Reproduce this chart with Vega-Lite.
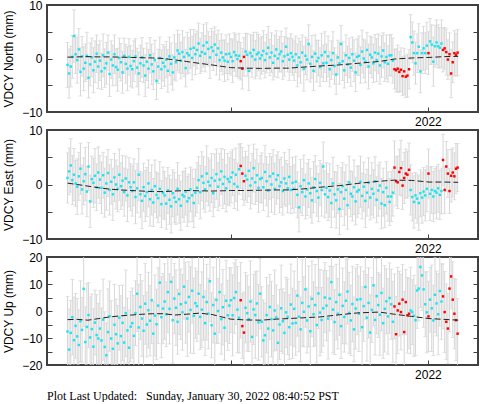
{
"$schema":"https://vega.github.io/schema/vega-lite/v6.json",
"padding":{"left":1,"top":-2,"right":1,"bottom":0},
"background":"white",
"config":{
 "view":{"stroke":"#404040","strokeWidth":2},
 "axis":{"domain":false,"grid":false,"tickColor":"#404040","tickSize":-5,"tickWidth":1,"labelFont":"Liberation Sans","labelFontSize":12,"labelColor":"#000","titleFont":"Liberation Sans","titleFontSize":12,"titleFontWeight":"normal","titleColor":"#000"},
 "title":{"font":"Liberation Serif","fontSize":12,"fontWeight":"normal","color":"#000"}
},
"title":{"text":"Plot Last Updated:\u00a0\u00a0\u00a0Sunday, January 30, 2022 08:40:52 PST","orient":"bottom","anchor":"start","frame":"group","dx":0,"offset":10},
"datasets":{
"obs":[
{"d":31,"n":-1.2,"e":1.2,"u":-7.6,"sn":4.2,"se":4.6,"su":13},
{"d":32.5,"n":-2.8,"e":2.4,"u":-14.3,"sn":4.6,"se":4.3,"su":15},
{"d":34,"n":-1.5,"e":3.5,"u":-8.1,"sn":3.8,"se":4.9,"su":12},
{"d":35.5,"n":0.3,"e":0.8,"u":-2.3,"sn":4.0,"se":4.5,"su":14},
{"d":37,"n":4.2,"e":1.8,"u":-10.8,"sn":4.9,"se":4.8,"su":16},
{"d":38.5,"n":0.8,"e":0.2,"u":-5.5,"sn":3.6,"se":4.2,"su":12},
{"d":40,"n":-0.3,"e":-0.4,"u":-9.4,"sn":4.3,"se":5.1,"su":14},
{"d":41.5,"n":1.7,"e":1.5,"u":-12.6,"sn":3.9,"se":4.4,"su":13},
{"d":43,"n":-2.5,"e":2.9,"u":-3.8,"sn":4.5,"se":4.7,"su":15},
{"d":44.5,"n":0.4,"e":-0.9,"u":-7.0,"sn":3.7,"se":4.5,"su":12},
{"d":46,"n":-1.9,"e":0.6,"u":8.2,"sn":4.1,"se":4.3,"su":14},
{"d":47.5,"n":-0.8,"e":1.9,"u":-11.5,"sn":3.5,"se":4.9,"su":13},
{"d":49,"n":0.5,"e":-1.3,"u":-5.9,"sn":4.4,"se":4.6,"su":16},
{"d":50.5,"n":-3.6,"e":3.3,"u":-1.5,"sn":3.8,"se":4.4,"su":12},
{"d":52,"n":-1.1,"e":-3.1,"u":-9.8,"sn":4.0,"se":4.8,"su":15},
{"d":53.5,"n":0.2,"e":1.0,"u":-6.7,"sn":3.6,"se":4.2,"su":13},
{"d":55,"n":-2.2,"e":0.3,"u":-13.2,"sn":4.2,"se":4.5,"su":14},
{"d":56.5,"n":-0.6,"e":1.6,"u":-4.3,"sn":3.9,"se":5.0,"su":12},
{"d":58,"n":0.9,"e":-0.5,"u":-8.9,"sn":3.5,"se":4.3,"su":15},
{"d":59.5,"n":-1.5,"e":2.2,"u":-10.2,"sn":4.1,"se":4.7,"su":13},
{"d":61,"n":-0.4,"e":0.9,"u":-6.5,"sn":3.7,"se":4.4,"su":14},
{"d":62.5,"n":-2.4,"e":-0.6,"u":-10.9,"sn":3.4,"se":4.7,"su":12},
{"d":64,"n":0.6,"e":1.7,"u":-3.2,"sn":4.0,"se":4.2,"su":15},
{"d":65.5,"n":-1.8,"e":-1.5,"u":-13.3,"sn":3.6,"se":4.5,"su":13},
{"d":67,"n":-0.9,"e":0.2,"u":-16.4,"sn":3.9,"se":4.9,"su":12},
{"d":68.5,"n":1.1,"e":2.1,"u":-7.8,"sn":3.3,"se":4.3,"su":16},
{"d":70,"n":-2.9,"e":-1.0,"u":-1.9,"sn":4.2,"se":4.6,"su":13},
{"d":71.5,"n":-0.2,"e":0.5,"u":-10.2,"sn":3.5,"se":4.1,"su":14},
{"d":73,"n":-1.3,"e":-1.8,"u":-14.0,"sn":3.8,"se":4.8,"su":12},
{"d":74.5,"n":0.8,"e":1.3,"u":-5.1,"sn":3.6,"se":4.4,"su":15},
{"d":76,"n":-1.6,"e":0.0,"u":-8.6,"sn":3.4,"se":4.5,"su":13},
{"d":77.5,"n":-2.1,"e":-0.8,"u":-12.0,"sn":4.0,"se":4.2,"su":14},
{"d":79,"n":0.1,"e":1.8,"u":-2.5,"sn":3.7,"se":4.7,"su":12},
{"d":80.5,"n":-0.7,"e":-0.3,"u":-9.3,"sn":3.5,"se":4.3,"su":15},
{"d":82,"n":-2.6,"e":0.7,"u":-4.4,"sn":3.9,"se":4.6,"su":14},
{"d":83.5,"n":0.5,"e":-1.4,"u":-11.7,"sn":3.3,"se":4.4,"su":13},
{"d":85,"n":-1.0,"e":1.1,"u":-0.8,"sn":3.6,"se":4.1,"su":16},
{"d":86.5,"n":-1.9,"e":-2.0,"u":-7.2,"sn":4.1,"se":4.8,"su":12},
{"d":88,"n":0.3,"e":0.4,"u":-13.6,"sn":3.4,"se":4.5,"su":14},
{"d":89.5,"n":-1.4,"e":-0.5,"u":-5.8,"sn":3.8,"se":4.3,"su":13},
{"d":91,"n":-2.0,"e":-1.2,"u":-4.5,"sn":3.5,"se":4.6,"su":13},
{"d":92.5,"n":-0.5,"e":0.4,"u":-9.2,"sn":3.8,"se":4.3,"su":15},
{"d":94,"n":0.4,"e":-2.3,"u":-0.8,"sn":3.3,"se":4.9,"su":12},
{"d":95.5,"n":-1.7,"e":-0.7,"u":6.4,"sn":3.6,"se":4.5,"su":14},
{"d":97,"n":-2.8,"e":1.8,"u":-6.1,"sn":4.0,"se":4.8,"su":16},
{"d":98.5,"n":-0.9,"e":-1.8,"u":1.5,"sn":3.4,"se":4.2,"su":12},
{"d":100,"n":0.2,"e":-3.0,"u":-2.8,"sn":3.7,"se":5.1,"su":14},
{"d":101.5,"n":-1.3,"e":-0.5,"u":-7.3,"sn":3.2,"se":4.4,"su":13},
{"d":103,"n":-3.2,"e":-2.1,"u":2.7,"sn":3.9,"se":4.7,"su":15},
{"d":104.5,"n":-0.6,"e":-1.4,"u":-5.0,"sn":3.5,"se":4.5,"su":12},
{"d":106,"n":-1.9,"e":0.2,"u":0.3,"sn":3.6,"se":4.3,"su":14},
{"d":107.5,"n":0.6,"e":-2.7,"u":-3.6,"sn":3.3,"se":4.9,"su":13},
{"d":109,"n":-1.1,"e":-1.0,"u":4.0,"sn":3.8,"se":4.6,"su":16},
{"d":110.5,"n":-2.4,"e":-3.3,"u":-8.4,"sn":3.4,"se":4.4,"su":12},
{"d":112,"n":-0.3,"e":-0.3,"u":-1.7,"sn":3.7,"se":4.8,"su":15},
{"d":113.5,"n":-4.2,"e":-1.9,"u":-4.9,"sn":3.5,"se":4.2,"su":13},
{"d":115,"n":-1.5,"e":-2.5,"u":2.0,"sn":3.2,"se":4.5,"su":14},
{"d":116.5,"n":0.1,"e":-0.8,"u":10.5,"sn":3.9,"se":5.0,"su":12},
{"d":118,"n":-2.0,"e":-3.6,"u":-2.3,"sn":3.6,"se":4.3,"su":15},
{"d":119.5,"n":-0.8,"e":-1.5,"u":0.9,"sn":3.4,"se":4.7,"su":13},
{"d":121,"n":-1.5,"e":-2.0,"u":3.5,"sn":3.7,"se":4.4,"su":14},
{"d":122.5,"n":-0.2,"e":-3.5,"u":-1.2,"sn":3.4,"se":4.7,"su":12},
{"d":124,"n":-2.3,"e":-1.1,"u":7.0,"sn":4.0,"se":4.2,"su":15},
{"d":125.5,"n":0.4,"e":-2.8,"u":0.8,"sn":3.6,"se":4.5,"su":13},
{"d":127,"n":-1.0,"e":-4.0,"u":10.8,"sn":3.9,"se":4.9,"su":12},
{"d":128.5,"n":-2.6,"e":-1.6,"u":-3.4,"sn":3.3,"se":4.3,"su":16},
{"d":130,"n":0.2,"e":-2.4,"u":4.6,"sn":4.2,"se":4.6,"su":13},
{"d":131.5,"n":-0.7,"e":-3.2,"u":1.2,"sn":3.5,"se":4.1,"su":14},
{"d":133,"n":1.5,"e":-0.8,"u":-4.0,"sn":3.8,"se":4.8,"su":12},
{"d":134.5,"n":0.9,"e":-2.7,"u":6.3,"sn":3.6,"se":4.4,"su":15},
{"d":136,"n":-0.4,"e":-3.9,"u":2.5,"sn":3.4,"se":4.5,"su":13},
{"d":137.5,"n":1.2,"e":-1.9,"u":-0.5,"sn":4.0,"se":4.2,"su":14},
{"d":139,"n":0.3,"e":-2.2,"u":9.0,"sn":3.7,"se":4.7,"su":12},
{"d":140.5,"n":-1.8,"e":-1.3,"u":3.1,"sn":3.5,"se":4.3,"su":15},
{"d":142,"n":1.0,"e":-3.1,"u":-2.8,"sn":3.9,"se":4.6,"su":14},
{"d":143.5,"n":0.6,"e":-2.5,"u":5.2,"sn":3.3,"se":4.4,"su":13},
{"d":145,"n":1.8,"e":-0.9,"u":0.4,"sn":3.6,"se":4.1,"su":16},
{"d":146.5,"n":0.1,"e":-2.0,"u":7.5,"sn":4.1,"se":4.8,"su":12},
{"d":148,"n":2.0,"e":-3.4,"u":-1.8,"sn":3.4,"se":4.5,"su":14},
{"d":149.5,"n":0.8,"e":-1.5,"u":2.9,"sn":3.8,"se":4.3,"su":13},
{"d":151,"n":1.6,"e":-0.6,"u":1.8,"sn":3.5,"se":4.6,"su":13},
{"d":152.5,"n":2.8,"e":0.8,"u":6.4,"sn":3.8,"se":4.3,"su":15},
{"d":154,"n":0.5,"e":-1.4,"u":-2.2,"sn":3.3,"se":4.9,"su":12},
{"d":155.5,"n":1.2,"e":1.5,"u":0.5,"sn":3.6,"se":4.5,"su":14},
{"d":157,"n":2.4,"e":0.3,"u":5.2,"sn":4.0,"se":4.8,"su":16},
{"d":158.5,"n":0.9,"e":-0.9,"u":-4.5,"sn":3.4,"se":4.2,"su":12},
{"d":160,"n":3.0,"e":2.0,"u":3.3,"sn":3.7,"se":5.1,"su":14},
{"d":161.5,"n":1.8,"e":0.5,"u":-1.0,"sn":3.2,"se":4.4,"su":13},
{"d":163,"n":0.2,"e":-0.2,"u":11.0,"sn":3.9,"se":4.7,"su":15},
{"d":164.5,"n":2.1,"e":1.2,"u":-5.3,"sn":3.5,"se":4.5,"su":12},
{"d":166,"n":1.4,"e":-1.6,"u":2.2,"sn":3.6,"se":4.3,"su":14},
{"d":167.5,"n":2.6,"e":0.7,"u":-8.4,"sn":3.3,"se":4.9,"su":13},
{"d":169,"n":0.7,"e":1.9,"u":4.1,"sn":3.8,"se":4.6,"su":16},
{"d":170.5,"n":1.9,"e":-0.4,"u":0.0,"sn":3.4,"se":4.4,"su":12},
{"d":172,"n":-0.3,"e":0.9,"u":7.0,"sn":3.7,"se":4.8,"su":15},
{"d":173.5,"n":1.1,"e":2.4,"u":-3.0,"sn":3.5,"se":4.2,"su":13},
{"d":175,"n":0.2,"e":0.1,"u":1.4,"sn":3.2,"se":4.5,"su":14},
{"d":176.5,"n":-0.4,"e":1.4,"u":-6.2,"sn":3.9,"se":5.0,"su":12},
{"d":178,"n":0.8,"e":-0.7,"u":3.8,"sn":3.6,"se":4.3,"su":15},
{"d":179.5,"n":-0.6,"e":1.0,"u":-1.6,"sn":3.4,"se":4.7,"su":13},
{"d":181,"n":0.9,"e":0.5,"u":2.0,"sn":3.7,"se":4.4,"su":14},
{"d":182.5,"n":0.3,"e":1.3,"u":4.0,"sn":3.4,"se":4.7,"su":12},
{"d":184,"n":-0.5,"e":2.2,"u":-1.6,"sn":4.0,"se":4.2,"su":15},
{"d":185.5,"n":1.2,"e":0.1,"u":4.8,"sn":3.6,"se":4.5,"su":13},
{"d":187,"n":0.6,"e":1.8,"u":7.0,"sn":3.9,"se":4.9,"su":12},
{"d":188.5,"n":-0.1,"e":-0.4,"u":0.5,"sn":3.3,"se":4.3,"su":16},
{"d":190,"n":0.5,"e":2.8,"u":-2.5,"sn":4.2,"se":4.6,"su":13},
{"d":191.5,"n":-0.5,"e":3.4,"u":4.0,"sn":3.5,"se":4.1,"su":14,"r":1},
{"d":193,"n":-1.9,"e":2.0,"u":-5.6,"sn":3.8,"se":4.8,"su":12,"r":1},
{"d":194.5,"n":0.3,"e":0.6,"u":-8.0,"sn":3.6,"se":4.4,"su":15,"r":1},
{"d":196,"n":1.3,"e":1.6,"u":1.2,"sn":3.4,"se":4.5,"su":13},
{"d":197.5,"n":0.7,"e":0.9,"u":-0.8,"sn":4.0,"se":4.2,"su":14},
{"d":199,"n":-2.3,"e":2.5,"u":-3.0,"sn":3.7,"se":4.7,"su":12},
{"d":200.5,"n":1.0,"e":-0.2,"u":3.5,"sn":3.5,"se":4.3,"su":15},
{"d":202,"n":0.4,"e":1.1,"u":-9.6,"sn":3.9,"se":4.6,"su":14},
{"d":203.5,"n":1.6,"e":3.0,"u":0.6,"sn":3.3,"se":4.4,"su":13},
{"d":205,"n":-0.2,"e":0.4,"u":-1.5,"sn":3.6,"se":4.1,"su":16},
{"d":206.5,"n":0.8,"e":1.7,"u":2.8,"sn":4.1,"se":4.8,"su":12},
{"d":208,"n":1.1,"e":-0.6,"u":-4.2,"sn":3.4,"se":4.5,"su":14},
{"d":209.5,"n":0.0,"e":1.0,"u":6.4,"sn":3.8,"se":4.3,"su":13},
{"d":211,"n":0.6,"e":1.2,"u":-4.0,"sn":3.5,"se":4.6,"su":13},
{"d":212.5,"n":1.4,"e":-0.5,"u":-10.9,"sn":3.8,"se":4.3,"su":15},
{"d":214,"n":-0.3,"e":2.3,"u":-9.0,"sn":3.3,"se":4.9,"su":12},
{"d":215.5,"n":0.9,"e":0.6,"u":-1.5,"sn":3.6,"se":4.5,"su":14},
{"d":217,"n":2.0,"e":-1.1,"u":-6.5,"sn":4.0,"se":4.8,"su":16},
{"d":218.5,"n":0.2,"e":1.5,"u":1.5,"sn":3.4,"se":4.2,"su":12},
{"d":220,"n":1.1,"e":0.0,"u":-3.0,"sn":3.7,"se":5.1,"su":14},
{"d":221.5,"n":-0.8,"e":2.0,"u":-7.2,"sn":3.2,"se":4.4,"su":13},
{"d":223,"n":0.5,"e":-0.8,"u":0.2,"sn":3.9,"se":4.7,"su":15},
{"d":224.5,"n":1.7,"e":0.9,"u":-2.4,"sn":3.5,"se":4.5,"su":12},
{"d":226,"n":0.0,"e":1.7,"u":-11.8,"sn":3.6,"se":4.3,"su":14},
{"d":227.5,"n":0.8,"e":-0.3,"u":-5.0,"sn":3.3,"se":4.9,"su":13},
{"d":229,"n":1.3,"e":0.4,"u":1.0,"sn":3.8,"se":4.6,"su":16},
{"d":230.5,"n":-0.5,"e":-1.2,"u":-3.8,"sn":3.4,"se":4.4,"su":12},
{"d":232,"n":0.4,"e":1.1,"u":-8.1,"sn":3.7,"se":4.8,"su":15},
{"d":233.5,"n":2.2,"e":0.2,"u":-0.5,"sn":3.5,"se":4.2,"su":13},
{"d":235,"n":0.7,"e":-0.7,"u":-2.2,"sn":3.2,"se":4.5,"su":14},
{"d":236.5,"n":-0.2,"e":1.4,"u":-6.0,"sn":3.9,"se":5.0,"su":12},
{"d":238,"n":1.0,"e":-1.0,"u":2.4,"sn":3.6,"se":4.3,"su":15},
{"d":239.5,"n":0.3,"e":0.3,"u":-4.6,"sn":3.4,"se":4.7,"su":13},
{"d":241,"n":-0.4,"e":-0.8,"u":0.8,"sn":3.7,"se":4.4,"su":14},
{"d":242.5,"n":0.8,"e":0.5,"u":-4.4,"sn":3.4,"se":4.7,"su":12},
{"d":244,"n":-1.3,"e":-1.9,"u":5.7,"sn":4.0,"se":4.2,"su":15},
{"d":245.5,"n":0.2,"e":-4.2,"u":-2.1,"sn":3.6,"se":4.5,"su":13},
{"d":247,"n":-0.7,"e":-0.3,"u":-6.8,"sn":3.9,"se":4.9,"su":12},
{"d":248.5,"n":1.1,"e":-1.4,"u":3.0,"sn":3.3,"se":4.3,"su":16},
{"d":250,"n":-1.9,"e":0.8,"u":-0.3,"sn":4.2,"se":4.6,"su":13},
{"d":251.5,"n":0.5,"e":-2.2,"u":8.0,"sn":3.5,"se":4.1,"su":14},
{"d":253,"n":-0.2,"e":-0.9,"u":-3.5,"sn":3.8,"se":4.8,"su":12},
{"d":254.5,"n":2.7,"e":0.2,"u":1.7,"sn":3.6,"se":4.4,"su":15},
{"d":256,"n":-1.0,"e":-1.6,"u":-7.5,"sn":3.4,"se":4.5,"su":13},
{"d":257.5,"n":0.3,"e":-2.9,"u":4.5,"sn":4.0,"se":4.2,"su":14},
{"d":259,"n":-2.3,"e":-0.5,"u":-1.2,"sn":3.7,"se":4.7,"su":12},
{"d":260.5,"n":0.9,"e":1.0,"u":2.2,"sn":3.5,"se":4.3,"su":15},
{"d":262,"n":-0.5,"e":-1.2,"u":-5.2,"sn":3.9,"se":4.6,"su":14},
{"d":263.5,"n":0.1,"e":-2.4,"u":6.5,"sn":3.3,"se":4.4,"su":13},
{"d":265,"n":-1.6,"e":0.3,"u":-0.6,"sn":3.6,"se":4.1,"su":16},
{"d":266.5,"n":0.6,"e":-1.0,"u":-3.3,"sn":4.1,"se":4.8,"su":12},
{"d":268,"n":-0.9,"e":3.3,"u":1.0,"sn":3.4,"se":4.5,"su":14},
{"d":269.5,"n":1.2,"e":-1.8,"u":5.0,"sn":3.8,"se":4.3,"su":13},
{"d":271,"n":-0.8,"e":-0.6,"u":2.0,"sn":3.5,"se":4.6,"su":13},
{"d":272.5,"n":0.4,"e":-2.3,"u":-2.8,"sn":3.8,"se":4.3,"su":15},
{"d":274,"n":-2.0,"e":-1.1,"u":4.6,"sn":3.3,"se":4.9,"su":12},
{"d":275.5,"n":-0.3,"e":-3.4,"u":10.7,"sn":3.6,"se":4.5,"su":14},
{"d":277,"n":1.0,"e":0.2,"u":0.5,"sn":4.0,"se":4.8,"su":16},
{"d":278.5,"n":-1.4,"e":-1.8,"u":-4.1,"sn":3.4,"se":4.2,"su":12},
{"d":280,"n":-3.0,"e":-2.9,"u":3.3,"sn":3.7,"se":5.1,"su":14},
{"d":281.5,"n":0.2,"e":-0.9,"u":-1.0,"sn":3.2,"se":4.4,"su":13},
{"d":283,"n":-0.9,"e":-4.5,"u":6.0,"sn":3.9,"se":4.7,"su":15},
{"d":284.5,"n":2.7,"e":-1.4,"u":-5.6,"sn":3.5,"se":4.5,"su":12},
{"d":286,"n":-0.5,"e":-0.3,"u":1.9,"sn":3.6,"se":4.3,"su":14},
{"d":287.5,"n":-2.2,"e":-2.6,"u":-2.2,"sn":3.3,"se":4.9,"su":13},
{"d":289,"n":0.6,"e":-1.0,"u":3.8,"sn":3.8,"se":4.6,"su":16},
{"d":290.5,"n":-1.1,"e":-3.8,"u":7.2,"sn":3.4,"se":4.4,"su":12},
{"d":292,"n":0.1,"e":0.4,"u":-0.7,"sn":3.7,"se":4.8,"su":15},
{"d":293.5,"n":-1.7,"e":-1.7,"u":-3.5,"sn":3.5,"se":4.2,"su":13},
{"d":295,"n":0.8,"e":-2.2,"u":2.6,"sn":3.2,"se":4.5,"su":14},
{"d":296.5,"n":-0.4,"e":-0.5,"u":-6.8,"sn":3.9,"se":5.0,"su":12},
{"d":298,"n":-2.6,"e":-3.1,"u":0.9,"sn":3.6,"se":4.3,"su":15},
{"d":299.5,"n":0.3,"e":-1.3,"u":4.2,"sn":3.4,"se":4.7,"su":13},
{"d":301,"n":0.5,"e":-1.0,"u":-1.0,"sn":3.7,"se":4.4,"su":14},
{"d":302.5,"n":-1.2,"e":0.5,"u":4.4,"sn":3.4,"se":4.7,"su":12},
{"d":304,"n":1.3,"e":-2.1,"u":-6.0,"sn":4.0,"se":4.2,"su":15},
{"d":305.5,"n":0.0,"e":-0.4,"u":1.8,"sn":3.6,"se":4.5,"su":13},
{"d":307,"n":-0.6,"e":-3.0,"u":8.9,"sn":3.9,"se":4.9,"su":12},
{"d":308.5,"n":1.6,"e":-1.5,"u":-2.5,"sn":3.3,"se":4.3,"su":16},
{"d":310,"n":-1.5,"e":0.3,"u":3.0,"sn":4.2,"se":4.6,"su":13},
{"d":311.5,"n":0.7,"e":-2.4,"u":-8.0,"sn":3.5,"se":4.1,"su":14},
{"d":313,"n":0.2,"e":-0.8,"u":0.4,"sn":3.8,"se":4.8,"su":12},
{"d":314.5,"n":-0.9,"e":-1.7,"u":9.5,"sn":3.6,"se":4.4,"su":15},
{"d":316,"n":1.1,"e":0.6,"u":-3.3,"sn":3.4,"se":4.5,"su":13},
{"d":317.5,"n":-0.3,"e":-2.8,"u":5.5,"sn":4.0,"se":4.2,"su":14},
{"d":319,"n":0.9,"e":-1.1,"u":2.2,"sn":3.7,"se":4.7,"su":12},
{"d":320.5,"n":-1.3,"e":-0.2,"u":-1.4,"sn":3.5,"se":4.3,"su":15},
{"d":322,"n":0.4,"e":-3.5,"u":6.7,"sn":3.9,"se":4.6,"su":14},
{"d":323.5,"n":1.5,"e":-1.4,"u":-4.5,"sn":3.3,"se":4.4,"su":13},
{"d":325,"n":-0.7,"e":-3.8,"u":0.8,"sn":3.6,"se":4.1,"su":16},
{"d":326.5,"n":0.3,"e":-0.6,"u":3.6,"sn":4.1,"se":4.8,"su":12},
{"d":328,"n":-1.0,"e":-2.2,"u":-2.0,"sn":3.4,"se":4.5,"su":14},
{"d":329.5,"n":0.6,"e":-3.2,"u":4.8,"sn":3.8,"se":4.3,"su":13},
{"d":331,"n":0.6,"e":-2.2,"u":2.5,"sn":3.9,"se":4.6,"su":13},
{"d":332.5,"n":-0.4,"e":-1.5,"u":-4.0,"sn":4.2,"se":4.3,"su":15},
{"d":334,"n":-2.0,"e":3.1,"u":1.7,"sn":3.7,"se":4.9,"su":12,"r":1},
{"d":335.5,"n":-2.2,"e":0.6,"u":-8.6,"sn":4.0,"se":4.5,"su":14,"r":1},
{"d":337,"n":-1.9,"e":0.4,"u":0.2,"sn":4.4,"se":4.8,"su":16,"r":1},
{"d":338.5,"n":-2.5,"e":2.3,"u":2.7,"sn":3.8,"se":4.2,"su":12,"r":1},
{"d":340,"n":-2.1,"e":3.0,"u":-0.4,"sn":4.1,"se":5.1,"su":14,"r":1},
{"d":341.5,"n":-3.3,"e":-0.2,"u":4.2,"sn":3.6,"se":4.4,"su":13,"r":1},
{"d":343,"n":-2.4,"e":1.2,"u":-7.8,"sn":4.3,"se":4.7,"su":15,"r":1},
{"d":344.5,"n":-3.4,"e":2.0,"u":3.3,"sn":3.9,"se":4.5,"su":12,"r":1},
{"d":346,"n":-3.2,"e":1.8,"u":-1.6,"sn":4.0,"se":4.3,"su":14,"r":1},
{"d":347.5,"n":-2.0,"e":2.7,"u":-1.0,"sn":3.7,"se":4.9,"su":13,"r":1},
{"d":349,"n":4.0,"e":-1.0,"u":0.2,"sn":4.2,"se":4.6,"su":16},
{"d":350.5,"n":3.0,"e":-2.3,"u":-0.4,"sn":3.8,"se":4.4,"su":12},
{"d":352,"n":1.0,"e":-3.2,"u":-1.8,"sn":4.1,"se":4.8,"su":15},
{"d":353.5,"n":-0.9,"e":-2.0,"u":-3.4,"sn":3.9,"se":4.2,"su":13},
{"d":355,"n":1.0,"e":-2.6,"u":7.6,"sn":3.6,"se":4.5,"su":14},
{"d":356.5,"n":2.2,"e":-3.4,"u":8.3,"sn":4.3,"se":5.0,"su":12},
{"d":358,"n":-2.4,"e":-1.6,"u":16.3,"sn":4.0,"se":4.3,"su":15},
{"d":359.5,"n":1.0,"e":-2.4,"u":13.2,"sn":3.8,"se":4.7,"su":13},
{"d":361,"n":1.9,"e":-1.3,"u":8.0,"sn":4.1,"se":4.4,"su":14},
{"d":362.5,"n":1.0,"e":-2.0,"u":2.5,"sn":3.8,"se":4.7,"su":12},
{"d":364,"n":2.4,"e":-0.8,"u":-0.5,"sn":4.4,"se":4.2,"su":15},
{"d":365.5,"n":1.0,"e":2.0,"u":-2.0,"sn":4.0,"se":4.5,"su":13,"r":1},
{"d":367,"n":3.2,"e":-1.7,"u":4.2,"sn":4.3,"se":4.9,"su":12},
{"d":368.5,"n":2.6,"e":-1.0,"u":1.0,"sn":3.7,"se":4.3,"su":16},
{"d":370,"n":-0.6,"e":-2.2,"u":-3.5,"sn":4.6,"se":4.6,"su":13},
{"d":371.5,"n":2.3,"e":-1.2,"u":6.0,"sn":3.9,"se":4.1,"su":14},
{"d":373,"n":3.0,"e":-1.5,"u":2.8,"sn":4.2,"se":4.8,"su":12},
{"d":374.5,"n":2.3,"e":-0.7,"u":-1.2,"sn":4.0,"se":4.4,"su":15},
{"d":376,"n":2.0,"e":-1.9,"u":7.4,"sn":3.8,"se":4.5,"su":13},
{"d":377.5,"n":2.8,"e":-1.2,"u":3.5,"sn":4.4,"se":4.2,"su":14},
{"d":379,"n":1.6,"e":4.5,"u":5.4,"sn":4.1,"se":4.7,"su":12,"r":1},
{"d":380.5,"n":1.9,"e":-1.0,"u":-0.4,"sn":3.9,"se":4.3,"su":15,"r":1},
{"d":382,"n":1.2,"e":3.3,"u":-4.0,"sn":4.3,"se":4.6,"su":14,"r":1},
{"d":383.5,"n":-0.2,"e":2.0,"u":-6.5,"sn":3.7,"se":4.4,"su":13,"r":1},
{"d":385,"n":0.8,"e":-1.2,"u":8.3,"sn":4.0,"se":4.1,"su":16,"r":1},
{"d":386.5,"n":-2.8,"e":1.6,"u":12.8,"sn":4.5,"se":4.8,"su":12,"r":1},
{"d":388,"n":-0.7,"e":2.2,"u":4.2,"sn":3.8,"se":4.5,"su":14,"r":1},
{"d":389.5,"n":1.0,"e":1.5,"u":-1.0,"sn":4.2,"se":4.3,"su":13,"r":1},
{"d":391,"n":0.7,"e":2.9,"u":-3.4,"sn":4.0,"se":4.6,"su":15,"r":1},
{"d":392.5,"n":1.1,"e":3.1,"u":-8.4,"sn":4.3,"se":4.4,"su":13,"r":1}
],
"mod":[
{"d":31,"mn":0.25,"me":0.25,"mu":-3.2},
{"d":40,"mn":0.3,"me":0.0,"mu":-3.1},
{"d":50,"mn":0.35,"me":-0.3,"mu":-3.4},
{"d":60,"mn":0.3,"me":-0.6,"mu":-2.8},
{"d":70,"mn":0.3,"me":-0.85,"mu":-2.2},
{"d":80,"mn":0.25,"me":-1.0,"mu":-1.8},
{"d":90,"mn":0.2,"me":-1.1,"mu":-1.5},
{"d":100,"mn":0.15,"me":-1.2,"mu":-1.2},
{"d":110,"mn":0.1,"me":-1.3,"mu":-1.0},
{"d":120,"mn":0.0,"me":-1.3,"mu":-1.0},
{"d":130,"mn":-0.25,"me":-1.2,"mu":-1.5},
{"d":141,"mn":-0.55,"me":-1.1,"mu":-1.2},
{"d":153,"mn":-0.9,"me":-1.15,"mu":-0.8},
{"d":165,"mn":-1.2,"me":-1.2,"mu":-1.3},
{"d":175,"mn":-1.5,"me":-1.15,"mu":-2.3},
{"d":182,"mn":-1.7,"me":-1.1,"mu":-3.0},
{"d":195,"mn":-1.8,"me":-1.1,"mu":-3.3},
{"d":210,"mn":-1.85,"me":-1.05,"mu":-3.4},
{"d":225,"mn":-1.8,"me":-1.0,"mu":-3.0},
{"d":236,"mn":-1.8,"me":-1.0,"mu":-2.8},
{"d":250,"mn":-1.6,"me":-0.8,"mu":-2.5},
{"d":265,"mn":-1.4,"me":-0.5,"mu":-2.2},
{"d":283,"mn":-1.2,"me":-0.2,"mu":-1.4},
{"d":300,"mn":-0.9,"me":0.2,"mu":-0.7},
{"d":320,"mn":-0.55,"me":0.6,"mu":-0.4},
{"d":334,"mn":-0.1,"me":0.8,"mu":-1.2},
{"d":350,"mn":0.1,"me":0.75,"mu":-2.0},
{"d":366,"mn":0.2,"me":0.45,"mu":-2.8},
{"d":380,"mn":0.35,"me":0.45,"mu":-3.1},
{"d":393,"mn":0.4,"me":0.4,"mu":-3.4}
]
},
"bounds":"flush",
"spacing":18,
"vconcat":[
{"width":431,"height":107,
 "encoding":{"x":{"field":"d","type":"quantitative","scale":{"domain":[12,411.4],"nice":false,"zero":false},"axis":{"values":[182.5,365],"labelExpr":"datum.value==365?'2022':''","labelPadding":9,"title":null}}},
 "layer":[
  {"data":{"name":"obs"},"mark":{"type":"errorbar","color":"#d6d6d6","ticks":{"size":4},"clip":true},
   "encoding":{"y":{"field":"n","type":"quantitative","scale":{"domain":[-10,10],"nice":false,"zero":false},"axis":{"values":[-10,-5,0,5,10],"labelExpr":"datum.value%10==0?datum.label:''","labelPadding":10,"title":"VDCY North (mm)","titlePadding":6}},"yError":{"field":"sn"}}},
  {"data":{"name":"obs"},"mark":{"type":"point","shape":"square","filled":true,"size":6,"opacity":1,"clip":true},
   "encoding":{"y":{"field":"n","type":"quantitative","axis":{"orient":"right","values":[-10,-5,0,5,10],"labels":false,"title":null}},"color":{"condition":{"test":"datum.r==1","value":"#ff0000"},"value":"#1de4f2"}}},
  {"data":{"name":"mod"},"mark":{"type":"line","color":"#202020","strokeWidth":1,"strokeDash":[6,3],"clip":true},
   "encoding":{"y":{"field":"mn","type":"quantitative","axis":null}}}
 ],
 "resolve":{"axis":{"y":"independent"}}
},
{"width":431,"height":109,
 "encoding":{"x":{"field":"d","type":"quantitative","scale":{"domain":[12,411.4],"nice":false,"zero":false},"axis":{"values":[182.5,365],"labelExpr":"datum.value==365?'2022':''","labelPadding":9,"title":null}}},
 "layer":[
  {"data":{"name":"obs"},"mark":{"type":"errorbar","color":"#d6d6d6","ticks":{"size":4},"clip":true},
   "encoding":{"y":{"field":"e","type":"quantitative","scale":{"domain":[-10,10],"nice":false,"zero":false},"axis":{"values":[-10,-5,0,5,10],"labelExpr":"datum.value%10==0?datum.label:''","labelPadding":10,"title":"VDCY East (mm)","titlePadding":6}},"yError":{"field":"se"}}},
  {"data":{"name":"obs"},"mark":{"type":"point","shape":"square","filled":true,"size":6,"opacity":1,"clip":true},
   "encoding":{"y":{"field":"e","type":"quantitative","axis":{"orient":"right","values":[-10,-5,0,5,10],"labels":false,"title":null}},"color":{"condition":{"test":"datum.r==1","value":"#ff0000"},"value":"#1de4f2"}}},
  {"data":{"name":"mod"},"mark":{"type":"line","color":"#202020","strokeWidth":1,"strokeDash":[6,3],"clip":true},
   "encoding":{"y":{"field":"me","type":"quantitative","axis":null}}}
 ],
 "resolve":{"axis":{"y":"independent"}}
},
{"width":431,"height":108,
 "encoding":{"x":{"field":"d","type":"quantitative","scale":{"domain":[12,411.4],"nice":false,"zero":false},"axis":{"values":[182.5,365],"labelExpr":"datum.value==365?'2022':''","labelPadding":9,"title":null}}},
 "layer":[
  {"data":{"name":"obs"},"mark":{"type":"errorbar","color":"#d6d6d6","ticks":{"size":4},"clip":true},
   "encoding":{"y":{"field":"u","type":"quantitative","scale":{"domain":[-20,20],"nice":false,"zero":false},"axis":{"values":[-20,-15,-10,-5,0,5,10,15,20],"labelExpr":"datum.value%10==0?datum.label:''","labelPadding":10,"title":"VDCY Up (mm)","titlePadding":6}},"yError":{"field":"su"}}},
  {"data":{"name":"obs"},"mark":{"type":"point","shape":"square","filled":true,"size":6,"opacity":1,"clip":true},
   "encoding":{"y":{"field":"u","type":"quantitative","axis":{"orient":"right","values":[-20,-15,-10,-5,0,5,10,15,20],"labels":false,"title":null}},"color":{"condition":{"test":"datum.r==1","value":"#ff0000"},"value":"#1de4f2"}}},
  {"data":{"name":"mod"},"mark":{"type":"line","color":"#202020","strokeWidth":1,"strokeDash":[6,3],"clip":true},
   "encoding":{"y":{"field":"mu","type":"quantitative","axis":null}}}
 ],
 "resolve":{"axis":{"y":"independent"}}
}
]
}
